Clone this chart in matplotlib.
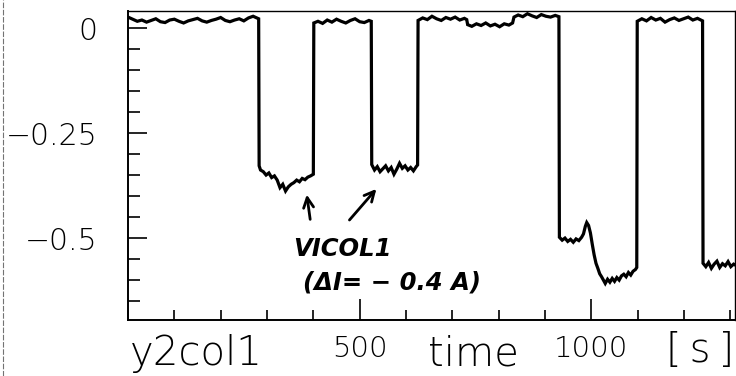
import matplotlib
matplotlib.use("Agg")
import matplotlib.pyplot as plt
from matplotlib.lines import Line2D
from matplotlib.ticker import FixedLocator, MultipleLocator
import numpy as np

# y2col1 trace (time in s, signal in A)
time_s = [0, 10, 20, 30, 40, 50, 60, 70, 80, 90, 100, 110, 120, 130, 140,
          150, 160, 170, 180, 190, 200, 210, 220, 230, 240, 250, 260, 270, 280, 282,
          # first VICOL1 step
          283, 286, 292, 298, 304, 310, 316, 322, 328, 334, 340, 346, 352, 358,
          364, 370, 376, 382, 388, 394, 400,
          401, 410, 420, 430, 440, 450, 460, 470, 480, 490, 500, 510, 520, 525,
          # second VICOL1 step
          526, 532, 538, 544, 550, 556, 562, 568, 574, 580, 586, 592, 598, 604,
          610, 616, 622, 625,
          626, 636, 646, 656, 666, 676, 686, 696, 706, 716, 726, 731,
          733, 742, 752, 762, 772, 782, 792, 802, 812, 822, 830,
          833, 842, 852, 862, 872, 882, 892, 902, 912, 922, 930,
          931, 937, 943, 949, 955, 961, 967, 973, 979, 983, 987, 990, 994, 998,
          1002, 1006, 1010, 1014, 1018, 1022, 1026, 1030, 1035, 1040, 1045, 1050,
          1055, 1060, 1065, 1070, 1075, 1080, 1085, 1090, 1095, 1098,
          1099, 1109, 1119, 1129, 1139, 1149, 1159, 1169, 1179, 1189, 1199, 1209,
          1219, 1229, 1240,
          1241, 1247, 1253, 1259, 1265, 1271, 1277, 1283, 1289, 1295, 1301, 1307, 1312]

signal = [0.026, 0.021, 0.016, 0.019, 0.014, 0.018, 0.022, 0.015, 0.013, 0.019, 0.021,
          0.016, 0.012, 0.017, 0.020, 0.023, 0.017, 0.014, 0.018, 0.021, 0.025, 0.018,
          0.015, 0.019, 0.022, 0.017, 0.024, 0.028, 0.023, 0.022,
          -0.328, -0.338, -0.342, -0.350, -0.345, -0.356, -0.352, -0.362, -0.380, -0.372,
          -0.388, -0.378, -0.372, -0.368, -0.362, -0.366, -0.358, -0.361, -0.355, -0.352,
          -0.348,
          0.012, 0.016, 0.011, 0.019, 0.014, 0.021, 0.016, 0.012, 0.018, 0.022, 0.015,
          0.013, 0.018, 0.016,
          -0.325, -0.338, -0.330, -0.342, -0.335, -0.328, -0.340, -0.332, -0.348, -0.336,
          -0.322, -0.334, -0.328, -0.338, -0.332, -0.340, -0.330, -0.326,
          0.018, 0.024, 0.020, 0.028, 0.022, 0.018, 0.025, 0.021, 0.026, 0.019, 0.023, 0.020,
          0.008, 0.004, 0.010, 0.006, 0.012, 0.005, 0.009, 0.003, 0.010, 0.007, 0.012,
          0.026, 0.031, 0.027, 0.034, 0.029, 0.025, 0.032, 0.028, 0.026, 0.030, 0.027,
          -0.498, -0.505, -0.500, -0.508, -0.503, -0.510, -0.502, -0.506, -0.498, -0.490,
          -0.472, -0.463, -0.470, -0.488, -0.515, -0.540, -0.560, -0.572, -0.585, -0.592,
          -0.600, -0.608, -0.598, -0.605, -0.596, -0.603, -0.594, -0.600, -0.590, -0.586,
          -0.592, -0.582, -0.588, -0.579, -0.575, -0.570,
          0.016, 0.022, 0.017, 0.025, 0.019, 0.023, 0.014, 0.020, 0.024, 0.018, 0.022,
          0.026, 0.019, 0.023, 0.017,
          -0.560, -0.568, -0.558, -0.572, -0.562, -0.555, -0.570, -0.561, -0.566, -0.556,
          -0.568, -0.562, -0.565]

xticks_major = [500, 1000]
xtick_labels = ["500", "1000"]
yticks_major = [0, -0.25, -0.5]
ytick_labels = ["0", "\u22120.25", "\u22120.5"]

fig = plt.figure(figsize=(7.36, 3.76), dpi=100)
ax = fig.add_axes([128/736, 56/376, 607/736, 309/376])

ax.plot(time_s, signal, color='black', lw=2.3, solid_joinstyle='miter')

ax.set_xlim(0, 1310)
ax.set_ylim(-0.695, 0.0405)

ax.xaxis.set_major_locator(FixedLocator(xticks_major))
ax.set_xticklabels(xtick_labels)
ax.xaxis.set_minor_locator(MultipleLocator(100))
ax.yaxis.set_major_locator(FixedLocator(yticks_major))
ax.set_yticklabels(ytick_labels)
ax.yaxis.set_minor_locator(MultipleLocator(0.05))

ax.tick_params(which='both', direction='in', color='black', width=1.2)
ax.tick_params(axis='y', which='major', length=14, pad=22, labelsize=21.5)
ax.tick_params(axis='y', which='minor', length=8.5)
ax.tick_params(axis='x', which='major', length=15, pad=11, labelsize=21)
ax.tick_params(axis='x', which='minor', length=7)
for lab in ax.get_xticklabels() + ax.get_yticklabels():
    lab.set_fontweight('light')

for side in ['left', 'bottom']:
    ax.spines[side].set_linewidth(1.4)
for side in ['top', 'right']:
    ax.spines[side].set_linewidth(1.0)

# axis titles PAW style, under the axis
fig.text(130/736, 1 - 365/376, "y2col1", fontsize=29, fontweight='light',
         ha='left', va='baseline')
fig.text(473/736, 1 - 365/376, "time", fontsize=29, fontweight='light',
         ha='center', va='baseline')
fig.text(734/736, 1 - 362/376, "[\u2009s\u2009]", fontsize=29, fontweight='light',
         ha='right', va='baseline')

# hand-written note
hand = dict(fontsize=17.5, fontweight='bold', fontstyle='italic', color='black')
ax.text(356, -0.526, "VICOL1", ha='left', va='center', **hand)
ax.text(377, -0.605, "(\u0394I= \u2212 0.4 A)", ha='left', va='center', **hand)
arrow = dict(arrowstyle='->', lw=2.0, color='black', mutation_scale=18)
ax.annotate('', xy=(385, -0.390), xytext=(394, -0.462), arrowprops=arrow)
ax.annotate('', xy=(540, -0.378), xytext=(474, -0.462), arrowprops=arrow)

# scan border at the left edge
fig.add_artist(Line2D([3/736, 3/736], [0, 1], transform=fig.transFigure,
                      color='0.45', lw=0.8, ls=(0, (5, 1.5))))

plt.savefig("out.png", dpi=100)
